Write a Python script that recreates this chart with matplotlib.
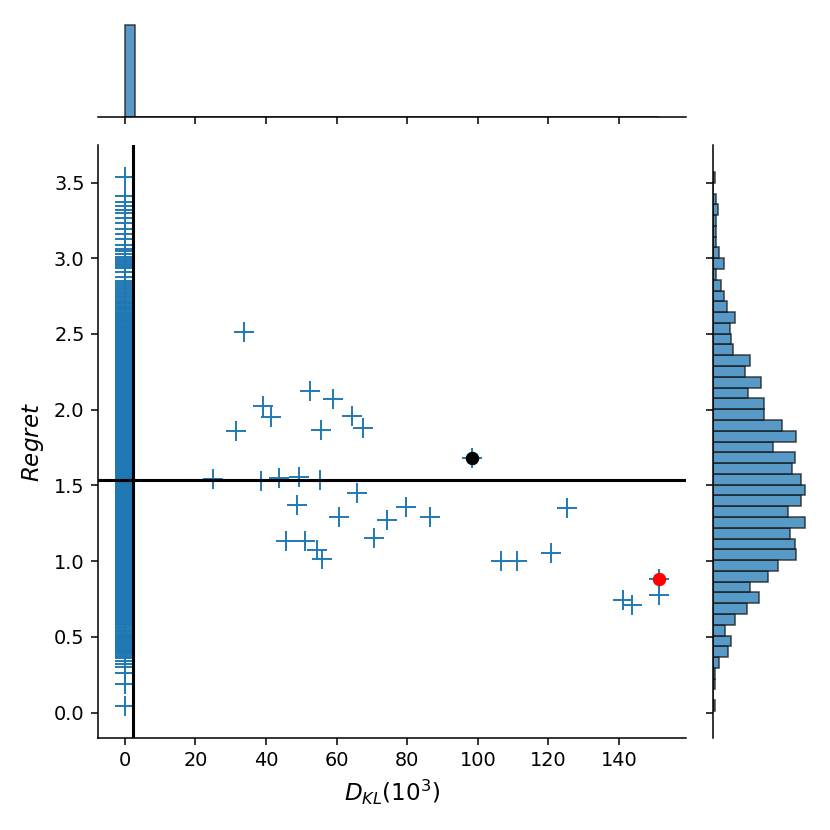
import numpy as np
import matplotlib
matplotlib.use("Agg")
from matplotlib import pyplot as plt

# regret histogram read from the right margin, bins from bottom (low regret) to top
regret_lo = 0.01
regret_hi = 3.57
regret_counts = [1, 0, 1, 1, 4, 10, 12, 8, 14, 22,
                 30, 24, 36, 42, 54, 53, 50, 60, 49, 57,
                 60, 57, 51, 53, 39, 54, 45, 33, 33, 23,
                 31, 21, 24, 13, 12, 11, 14, 9, 7, 5,
                 2, 7, 4, 2, 2, 2, 3, 2, 0, 1]

# the runs away from D_KL = 0 (x in 10^3, regret)
scatter_x = [33.85, 39.2, 41.3, 31.5, 52.4, 58.9, 64.5, 67.5, 55.7,
             25.1, 38.7, 43.6, 49.3, 55.2,
             65.7, 48.8, 60.6, 74.3, 79.8, 86.5, 70.5, 45.7, 51.2, 54.5, 56.0,
             125.3, 120.8, 106.5, 111.0, 151.2, 141.0, 143.8]
scatter_y = [2.51, 2.026, 1.953, 1.861, 2.122, 2.072, 1.96, 1.88, 1.865,
             1.54, 1.53, 1.55, 1.555, 1.535,
             1.451, 1.372, 1.29, 1.273, 1.355, 1.29, 1.151, 1.131, 1.131, 1.074, 1.015,
             1.352, 1.052, 0.999, 0.999, 0.775, 0.744, 0.709]

# the two highlighted runs
black_pt = (98.4, 1.68)
red_pt = (151.4, 0.88)

mean_x = 2.3
mean_y = 1.535

edges = np.linspace(regret_lo, regret_hi, len(regret_counts) + 1)

# points off zero, plus the two highlighted ones
off_x = scatter_x + [black_pt[0], red_pt[0]]
off_y = scatter_y + [black_pt[1], red_pt[1]]
off_hist, _ = np.histogram(off_y, bins=edges)

# points at D_KL = 0 fill what the off-zero ones leave of each bin
zero_y = []
for k, c in enumerate(regret_counts):
    n = max(c - off_hist[k], 0)
    if c > 0 and n == 0 and off_hist[k] == 0:
        n = c
    w = edges[k + 1] - edges[k]
    for j in range(n):
        zero_y.append(edges[k] + (j + 0.5) / n * w)
zero_x = [0.0] * len(zero_y)

all_x = np.array(zero_x + off_x)
all_y = np.array(zero_y + off_y)

fig = plt.figure(figsize=(6, 6), dpi=830 / 6)
ax = fig.add_axes([98 / 830, 1 - 738 / 830, 588 / 830, 593 / 830])
ax_top = fig.add_axes([98 / 830, 1 - 117 / 830, 588 / 830, 97 / 830], sharex=ax)
ax_right = fig.add_axes([713 / 830, 1 - 738 / 830, 97 / 830, 593 / 830], sharey=ax)

ax.scatter(all_x, all_y, marker='+', s=110, color='C0', linewidths=1.0, zorder=2)
ax.axvline(mean_x, color='k', lw=1.6, zorder=3)
ax.axhline(mean_y, color='k', lw=1.6, zorder=3)
ax.scatter([black_pt[0]], [black_pt[1]], color='k', s=36, zorder=4)
ax.scatter([red_pt[0]], [red_pt[1]], color='red', s=36, zorder=4)

ax.set_xticks([0, 20, 40, 60, 80, 100, 120, 140])
ax.set_yticks([0.0, 0.5, 1.0, 1.5, 2.0, 2.5, 3.0, 3.5])
ax.set_xlabel(r'$D_{KL}(10^3)$', fontsize=12)
ax.set_ylabel(r'$Regret$', fontsize=12)
ax.spines['top'].set_visible(False)
ax.spines['right'].set_visible(False)

bar_face = (0.12, 0.47, 0.71, 0.75)
bar_edge = (0.1, 0.1, 0.1, 0.8)
ax_top.hist(all_x, bins=50, color=bar_face, edgecolor=bar_edge, linewidth=0.8)
ax_right.hist(all_y, bins=edges, orientation='horizontal',
              color=bar_face, edgecolor=bar_edge, linewidth=0.8)

for a in (ax_top, ax_right):
    for s in ('top', 'right'):
        a.spines[s].set_visible(False)
ax_top.spines['left'].set_visible(False)
ax_top.tick_params(axis='x', labelbottom=False)
ax_top.set_yticks([])
ax_right.spines['bottom'].set_visible(False)
ax_right.tick_params(axis='y', labelleft=False)
ax_right.set_xticks([])

ax.set_xlim(-7.57, 158.97)
ax.set_ylim(-0.168, 3.748)

fig.savefig('out.png', dpi=830 / 6)
